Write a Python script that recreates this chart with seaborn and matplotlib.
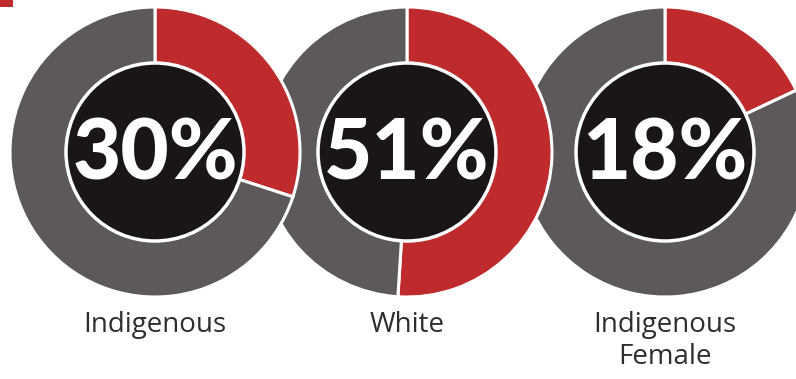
import matplotlib
matplotlib.use("Agg")
import matplotlib.pyplot as plt
import seaborn as sns
from matplotlib.patches import Circle, Rectangle

categories = ["Indigenous", "White", "Indigenous\nFemale"]
percent_values = [30, 51, 18]
percent_labels = ["30%", "51%", "18%"]

sns.set_theme(style="white")
plt.rcParams["font.family"] = ["Lato", "DejaVu Sans"]

RED = "#bf2a2c"
GREY = "#5d595a"
BLACK = "#1a1516"
palette = sns.color_palette([RED, GREY])

W, H = 796, 379
fig = plt.figure(figsize=(W / 100, H / 100), dpi=100)
ax = fig.add_axes([0, 0, 1, 1])
fig.patch.set_facecolor("white")

centers_x = [155, 407, 665]
cy = H - 152
R_OUT = 145
R_IN = 89

n = len(categories)
for i in reversed(range(n)):
    p = percent_values[i]
    z = 2 * (n - i)
    ax.pie([p, 100 - p], startangle=90, counterclock=False, colors=palette,
           radius=R_OUT, center=(centers_x[i], cy), frame=True,
           wedgeprops=dict(width=R_OUT - R_IN + 2, edgecolor="white",
                           linewidth=2.2, zorder=z))
    ax.add_patch(Circle((centers_x[i], cy), R_IN, facecolor=BLACK,
                        edgecolor="white", linewidth=2.5, zorder=z + 0.5))
    ax.text(centers_x[i], cy - 3, percent_labels[i], color="white",
            fontsize=60, fontweight="black", ha="center", va="center",
            zorder=20)
    ax.text(centers_x[i], H - 311, categories[i], color="#2e2e2e",
            fontsize=20, family=["Open Sans", "DejaVu Sans"],
            ha="center", va="top", linespacing=1.2, zorder=20)

ax.add_patch(Rectangle((0, H - 7), 13, 7, facecolor=RED, edgecolor="none",
                       zorder=30))

ax.set_xlim(0, W)
ax.set_ylim(0, H)
ax.set_aspect("auto")
ax.axis("off")
fig.savefig("out.png", dpi=100, facecolor="white")
